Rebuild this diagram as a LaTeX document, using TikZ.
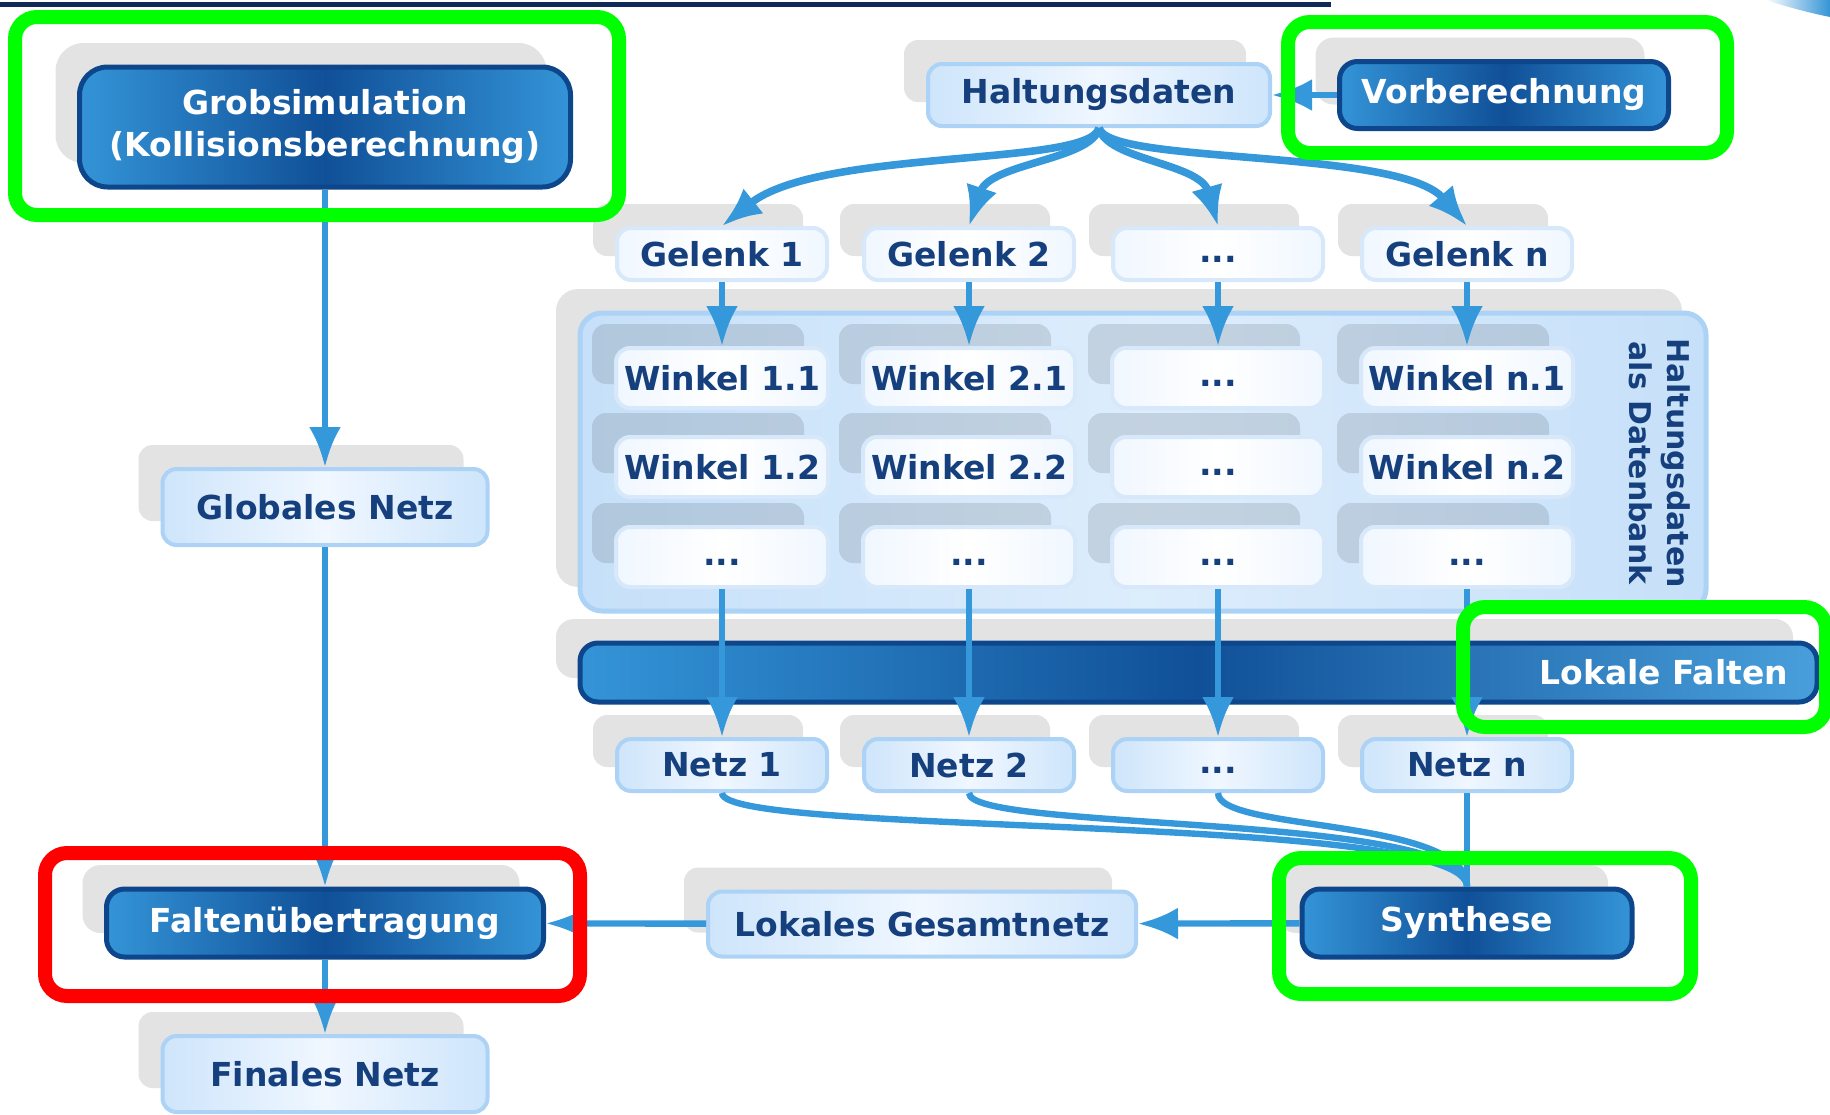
\documentclass[tikz,border=0pt]{standalone}
\usepackage{fontspec}
\setmainfont{DejaVu Sans}
\usetikzlibrary{shadows,arrows.meta,calc}
\definecolor{arrowblue}{RGB}{52,152,219}
\definecolor{textblue}{RGB}{22,64,125}
\definecolor{navy}{RGB}{14,70,140}
\definecolor{darkfill}{RGB}{16,80,152}
\definecolor{brightfill}{RGB}{52,148,215}
\definecolor{lightborder}{RGB}{172,210,245}
\definecolor{paleborder}{RGB}{214,232,250}
\definecolor{lightfill}{RGB}{206,229,251}
\definecolor{palefill}{RGB}{240,247,255}
\definecolor{dbfill}{RGB}{198,224,249}
\definecolor{markgreen}{RGB}{0,255,0}
\definecolor{markred}{RGB}{255,0,0}
\definecolor{topline}{RGB}{15,42,88}
\newcommand{\etcdots}{\vphantom{Wg}...}

\begin{document}
\begin{tikzpicture}[x=0.5pt, y=-0.5pt,
    boxfont/.style={font=\bfseries\fontsize{16.5}{21}\selectfont},
    boxshadow/.style={general shadow={fill=black, opacity=0.11, shadow xshift=-12pt, shadow yshift=12pt}},
    lightbox/.style={boxfont, boxshadow, rectangle, rounded corners=7pt, draw=lightborder, line width=2pt,
                     left color=lightfill, right color=lightfill, middle color=palefill, text=textblue,
                     minimum width=105pt, minimum height=26pt, inner sep=2pt},
    palebox/.style={lightbox, draw=paleborder, left color=palefill, right color=palefill, middle color=white},
    darkbox/.style={boxfont, boxshadow, rectangle, rounded corners=9pt, draw=navy, line width=2.5pt,
                    left color=brightfill, right color=brightfill, middle color=darkfill, text=white, inner sep=2pt},
    dbbox/.style={boxshadow, rectangle, rounded corners=11pt, draw=lightborder, line width=2.5pt,
                  left color=dbfill, right color=dbfill, middle color=lightfill!70!white},
    flow/.style={draw=arrowblue, line width=3.2pt, -{Latex[length=20pt, width=16pt]}},
    fan/.style={flow, line width=3.8pt},
    link/.style={draw=arrowblue, line width=3.2pt},
    markbox/.style={line width=7pt, rounded corners=11pt}
]
\useasboundingbox (0,0) rectangle (1830,1114);

% header rule and corner
\draw[topline, line width=2.5pt] (0,4) -- (1331,4);
\shade[left color=white, right color=brightfill] (1765,0) -- (1830,0) -- (1830,17) .. controls (1805,12) and (1785,6) .. (1765,0) -- cycle;

% left chain
\node[darkbox, minimum width=245.5pt, minimum height=60pt, rounded corners=14pt, align=center] (grob) at (325,127)
     {Grobsimulation\\(Kollisionsberechnung)};
\node[lightbox, minimum width=162.5pt, minimum height=38pt] (glob) at (325,507) {Globales Netz};
\node[darkbox, minimum width=218.5pt, minimum height=34pt] (falt) at (325,923) {Faltenübertragung};
\node[lightbox, minimum width=162.5pt, minimum height=38pt] (fin) at (325,1074) {Finales Netz};

% top of the right part
\node[lightbox, minimum width=171pt, minimum height=31pt] (halt) at (1099,95) {Haltungsdaten};
\node[darkbox, minimum width=164.5pt, minimum height=33.5pt] (vor) at (1504,95) {Vorberechnung};

% database and folding bar
\node[dbbox, minimum width=563pt, minimum height=149pt] (db) at (1143,462) {};
\node[rotate=-90, align=center, text=textblue, font=\bfseries\fontsize{15}{19}\selectfont] (dbname) at (1660,463)
     {Haltungsdaten\\als Datenbank};
\node[darkbox, minimum width=618.5pt, minimum height=29.5pt, text width=589.5pt, inner xsep=14.5pt,
      align=right, left color=brightfill, right color=brightfill!90!white, middle color=darkfill] (bar) at (1198.5,672.5)
     {Lokale Falten};

% columns
\foreach \col/\x/\gtext/\atext/\btext/\ntext in {
    1/722/Gelenk 1/Winkel 1.1/Winkel 1.2/Netz 1,
    2/969/Gelenk 2/Winkel 2.1/Winkel 2.2/Netz 2,
    3/1218/\etcdots/\etcdots/\etcdots/\etcdots,
    4/1467/Gelenk n/Winkel n.1/Winkel n.2/Netz n}{
  \node[palebox] (g\col) at (\x,254) {\gtext};
  \node[palebox, minimum width=106pt, minimum height=30pt] (w\col-a) at (\x,378) {\atext};
  \node[palebox, minimum width=106pt, minimum height=30pt] (w\col-b) at (\x,467) {\btext};
  \node[palebox, minimum width=106pt, minimum height=30pt] (w\col-c) at (\x,557) {\etcdots};
  \node[lightbox] (n\col) at (\x,765) {\ntext};
}

% bottom row
\node[lightbox, minimum width=214pt, minimum height=32.5pt] (lokal) at (922,924) {Lokales Gesamtnetz};
\node[darkbox, minimum width=165pt, minimum height=34pt] (syn) at (1467,923) {Synthese};

% connectors
\draw[flow] (grob) -- (glob);
\draw[flow] (glob) -- (falt);
\draw[flow] (falt) -- (fin);
\draw[flow] (vor) -- (halt);
\draw[flow] (syn) -- (lokal);
\draw[flow] (lokal) -- (falt);

\draw[fan] (halt.south) .. controls ($(halt.south)+(-9,39)$) and ($(g1.north)+(98,-78)$) .. (g1.north);
\draw[fan] (halt.south) .. controls ($(halt.south)+(-7,32)$) and ($(g2.north)+(21,-63)$) .. (g2.north);
\draw[fan] (halt.south) .. controls ($(halt.south)+(7,32)$) and ($(g3.north)+(-18,-63)$) .. (g3.north);
\draw[fan] (halt.south) .. controls ($(halt.south)+(9,37)$) and ($(g4.north)+(-67,-78)$) .. (g4.north);

\foreach \col in {1,...,4} {
  \draw[flow] (g\col) -- (w\col-a);
  \draw[flow] (w\col-c) -- (n\col);
}

\draw[link] (n1.south) .. controls ($(n1.south)+(0,44)$) and ($(syn.north)+(0,-74)$) .. (syn.north);
\draw[link] (n2.south) .. controls ($(n2.south)+(0,39)$) and ($(syn.north)+(0,-74)$) .. (syn.north);
\draw[link] (n3.south) .. controls ($(n3.south)+(0,39)$) and ($(syn.north)+(0,-69)$) .. (syn.north);
\draw[link] (n4) -- (syn);

% highlight frames
\draw[markbox, draw=markgreen] (15,17) rectangle (619,215);
\draw[markbox, draw=markgreen] (1288,22) rectangle (1727,153);
\draw[markbox, draw=markgreen] (1463,607) rectangle (1826,727);
\draw[markbox, draw=markgreen] (1279,858) rectangle (1691,994);
\draw[markbox, draw=markred] (45,853) rectangle (580,996);
\end{tikzpicture}
\end{document}
